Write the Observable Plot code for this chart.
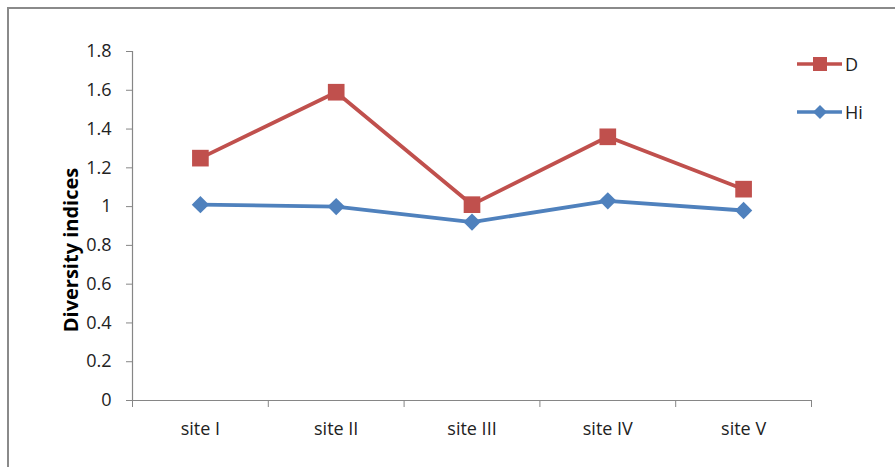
<!DOCTYPE html>
<html>
<head>
<meta charset="utf-8">
<script src="https://cdn.jsdelivr.net/npm/d3@7"></script>
<script src="https://cdn.jsdelivr.net/npm/@observablehq/plot@0.6"></script>
<style>
  html, body { margin: 0; padding: 0; background: #fff; overflow: hidden; width: 895px; height: 467px; }
  #wrap { position: relative; width: 895px; height: 467px; }
  #frame { position: absolute; left: 7px; top: 7px; width: 900px; height: 480px; border-left: 2px solid #8a8a8a; border-top: 2px solid #8a8a8a; box-sizing: border-box; }
  #chart { position: absolute; left: 0; top: 0; }
  #ylabel { position: absolute; left: 70px; top: 250px; transform: translate(-50%, -50%) rotate(-90deg); font-family: "Open Sans", sans-serif; font-weight: bold; font-size: 20px; color: #000; white-space: nowrap; }
  #legend { position: absolute; left: 790px; top: 50px; font-family: "Open Sans", sans-serif; font-size: 18px; color: #222; }
</style>
</head>
<body>
<div id="wrap">
  <div id="frame"></div>
  <div id="chart"></div>
  <div id="ylabel">Diversity indices</div>
  <div id="legend"></div>
</div>
<script>
const sites = ["site I", "site II", "site III", "site IV", "site V"];
const seriesNames = ["D", "Hi"];
const dValues = [1.25, 1.59, 1.01, 1.36, 1.09];
const hiValues = [1.01, 1.00, 0.92, 1.03, 0.98];
const yTicks = [0, 0.2, 0.4, 0.6, 0.8, 1, 1.2, 1.4, 1.6, 1.8];
const colors = {D: "#C0504D", Hi: "#4F81BD"};
const symbols = {D: "square", Hi: "diamond2"};
const radii = {D: 9.4, Hi: 7.8};

const rows = [];
sites.forEach((s, i) => {
  rows.push({site: s, pos: i + 0.5, series: "D", value: dValues[i]});
  rows.push({site: s, pos: i + 0.5, series: "Hi", value: hiValues[i]});
});
const centers = sites.map((s, i) => i + 0.5);
const bounds = d3.range(sites.length + 1);

const axisGray = "#868686";
const textColor = "#222";

const marks = [
  Plot.axisY({ticks: yTicks, tickFormat: d => String(+d.toFixed(1)), tickSize: 6, tickPadding: 15,
              stroke: axisGray, fill: textColor, fontSize: 18, label: null}),
  Plot.axisX({ticks: bounds, tickFormat: () => "", tickSize: 7, stroke: axisGray, label: null}),
  Plot.axisX({ticks: centers, tickFormat: d => sites[Math.round(d - 0.5)], tickSize: 0, tickPadding: 22,
              fill: textColor, fontSize: 18, label: null}),
  Plot.ruleX([0], {stroke: axisGray, strokeWidth: 1.2}),
  Plot.ruleY([0], {stroke: axisGray, strokeWidth: 1.2})
];
for (const name of seriesNames) {
  const data = rows.filter(r => r.series === name);
  marks.push(Plot.lineY(data, {x: "pos", y: "value", stroke: colors[name], strokeWidth: 3.8}));
}
for (const name of seriesNames) {
  const data = rows.filter(r => r.series === name);
  marks.push(Plot.dot(data, {x: "pos", y: "value", symbol: () => symbols[name], fill: colors[name], stroke: "none", r: radii[name]}));
}

const chart = Plot.plot({
  width: 895,
  height: 467,
  marginLeft: 132,
  marginRight: 84,
  marginTop: 51,
  marginBottom: 67,
  style: {fontFamily: "'Open Sans', sans-serif", fontSize: "18px", background: "transparent"},
  x: {type: "linear", domain: [0, sites.length], axis: null},
  y: {domain: [0, 1.8], axis: null},
  symbol: {type: "identity"},
  marks
});
document.getElementById("chart").appendChild(chart);

// Legend
const legend = d3.select("#legend");
seriesNames.forEach((name, i) => {
  const row = legend.append("div").style("display", "flex").style("align-items", "center")
    .style("height", "28px").style("margin-bottom", i === 0 ? "20px" : "0");
  const svg = row.append("svg").attr("width", 54).attr("height", 28);
  svg.append("line").attr("x1", 7).attr("x2", 52).attr("y1", 14).attr("y2", 14)
    .attr("stroke", colors[name]).attr("stroke-width", 3.5);
  if (name === "D") {
    svg.append("rect").attr("x", 23).attr("y", 7).attr("width", 14).attr("height", 14).attr("fill", colors[name]);
  } else {
    svg.append("path").attr("d", "M30,7L37,14L30,21L23,14Z").attr("fill", colors[name]);
  }
  row.append("span").text(name).style("margin-left", "1px");
});
</script>
</body>
</html>
